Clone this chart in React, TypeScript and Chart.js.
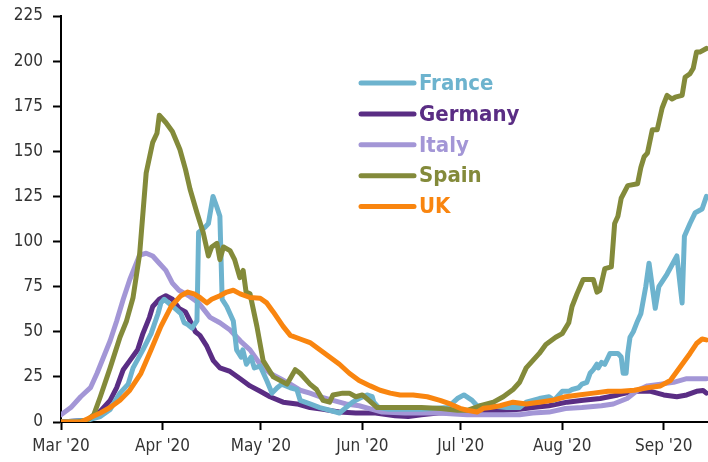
import React, { useEffect, useRef } from "react";
import { Chart, registerables } from "chart.js";

Chart.register(...registerables);

// x = days since 1 Mar 2020
const monthTicks = [0, 31, 61, 92, 122, 153, 184];
const monthLabels = ["Mar '20", "Apr '20", "May '20", "Jun '20", "Jul '20", "Aug '20", "Sep '20"];
const yTicks = [0, 25, 50, 75, 100, 125, 150, 175, 200, 225];

const franceData: [number, number][] = [
  [0, 0], [8, 1], [12, 3], [15, 7], [18, 16], [20.5, 21], [22, 30], [25, 40], [27.5, 49], [29.6, 60], [30.5, 66],
  [31.5, 68], [33.5, 65], [36.6, 60], [37.6, 55], [38.7, 54], [40, 52], [41.5, 56], [42, 105], [44, 108], [45, 110],
  [46.4, 125], [47.6, 119], [48.5, 114], [49.2, 68], [50.6, 64], [52.6, 56], [53.6, 40], [55, 36], [55.5, 40],
  [56.6, 32], [58, 36], [59, 30], [60.8, 31], [62.8, 23], [64.4, 16], [66, 19], [67.4, 21], [70, 19], [72, 18],
  [73, 12], [76, 10], [79, 8], [82, 6.5], [85, 5], [87, 8], [89, 11], [91, 13], [93.4, 15], [95, 14], [95.5, 11],
  [97, 8], [100, 7], [110, 7], [118, 8], [121, 13], [123, 15], [125.5, 12], [127, 9], [131, 9], [136, 8], [140, 8],
  [142, 11], [146, 13], [149, 14], [150.5, 12], [152, 15], [153, 17], [155, 17], [156, 18], [158, 19], [159, 21],
  [160.5, 22], [161.5, 27], [162.5, 29], [163.6, 32], [164, 30], [165, 33], [166, 32], [167.6, 38], [170, 38],
  [171, 36], [171.6, 27], [172.5, 27], [173, 38], [173.7, 47], [174.7, 50], [176, 56], [177, 60], [178.5, 75],
  [179.5, 88], [181.4, 63], [182.5, 75], [185, 82], [188, 92], [189.6, 66], [190.3, 103], [192, 110], [193.6, 116],
  [195.7, 118], [197, 125],
];

const germanyData: [number, number][] = [
  [0, 0], [8, 1], [10, 3], [12, 6], [15, 12], [17, 19], [19, 29], [21, 34], [23.4, 40], [25, 49], [27, 58], [28, 64],
  [30, 68], [32, 70], [34, 68], [36, 63], [38, 61], [39.7, 55], [41, 50], [42.4, 48], [44.5, 42], [46.5, 34],
  [48.5, 30], [51.6, 28], [54.7, 24], [57.7, 20], [60.8, 17], [63.8, 14], [67.8, 11], [72, 10], [76, 8], [80, 7],
  [85, 5.5], [90, 5], [96, 5], [102, 3.5], [106, 3], [110, 4], [115, 5], [121, 5.5], [128, 5.5], [136, 6.5],
  [140, 7], [144, 8], [149, 9], [154.5, 11], [159.4, 12], [164.6, 13], [170, 15], [174.7, 17], [180, 17], [184, 15],
  [188, 14], [191, 15], [194, 17], [196, 17.5], [197, 16],
];

const italyData: [number, number][] = [
  [0, 4], [3, 8], [6, 14], [9, 19], [11, 27], [13, 36], [15, 45], [17, 56], [19, 68], [21, 79], [23, 88],
  [24, 92.5], [26, 93.5], [28, 92], [30, 88], [32, 84], [34, 77], [36, 73], [39, 70], [42, 66], [45.5, 58],
  [48.5, 55], [51.6, 51], [54.7, 45], [57.7, 40], [60.8, 32], [63.8, 27], [67, 24], [70, 21], [73, 17.6], [76, 16],
  [79, 14], [83, 12], [87, 10], [91, 9], [95, 7], [98, 5.5], [105, 5], [115, 5], [124, 4], [131, 4], [140, 4],
  [144, 5], [149, 5.5], [154, 7.5], [159, 8], [165, 9], [168.6, 10], [172.8, 13], [176, 17.6], [179, 20], [183, 21],
  [187, 22], [191, 24], [197, 24],
];

const spainData: [number, number][] = [
  [0, 0], [5, 0], [8, 1], [10, 4], [12, 14], [15, 30], [18, 47], [20, 56], [22, 69], [24, 93], [26, 138], [28, 155],
  [29.3, 160], [30, 170], [32, 166], [34, 161], [36.3, 151], [38, 140], [39.4, 129], [41.5, 116], [43.4, 105],
  [45, 92], [46, 97], [47.6, 99], [48.5, 90], [49.6, 97], [51.6, 95], [53, 90], [54.6, 80], [55.6, 84], [56.5, 72],
  [57.7, 71], [59.8, 53], [61.7, 34], [64.8, 25], [69, 21], [71.5, 29], [73, 27], [76, 21], [78, 18], [80, 12],
  [82, 11], [83, 15], [86, 16], [88, 16], [90, 14], [92, 15], [94, 12], [96.5, 8], [100, 8], [105, 8], [110, 8],
  [116, 7.5], [121, 6.5], [124, 6.5], [128, 9], [132, 11], [135, 14], [138, 18], [140, 22], [142, 30], [144, 34],
  [146, 38], [148, 43], [151, 47], [153, 49], [155, 55], [156, 64], [157.5, 71], [159.4, 79], [162.5, 79],
  [163.6, 72], [164.5, 73], [166, 85], [168, 86], [169, 110], [170, 114], [171, 124], [173, 131], [176, 132],
  [177, 141], [178, 147], [179, 149], [180.5, 162], [182, 162], [183.5, 174], [185, 181], [186.5, 179],
  [187.5, 180], [189.6, 181], [190.5, 191], [192, 193], [193, 196], [194, 205], [195, 205], [197, 207],
];

const ukData: [number, number][] = [
  [0, 0], [6, 0], [9, 2.5], [12, 5], [15, 8], [18, 12], [21, 17.6], [24.4, 27], [27.5, 40], [30.5, 53], [33.6, 64],
  [36.6, 70], [38.7, 72], [40.6, 71], [42.4, 69], [44.5, 66], [46, 68], [48.5, 70], [50.6, 72], [52.6, 73],
  [54.7, 71], [57.7, 69], [60.8, 68.6], [62.8, 66], [64.8, 61], [67.8, 53], [70, 48], [73, 46], [76, 44], [79, 40],
  [82, 36], [85, 32], [88, 27], [91, 23], [94.4, 20], [97.4, 17.6], [100.5, 16], [103.5, 15], [107.5, 15],
  [111.8, 14], [115.7, 12], [118.8, 10], [121.8, 7.6], [124, 6.5], [127, 5.5], [129, 7.6], [131, 8], [134, 9],
  [138, 11], [142, 10], [146, 11], [150, 12], [154, 14], [158, 15], [162.5, 16], [167, 17], [171, 17], [175, 17.6],
  [179, 19], [183, 20], [186, 23], [188, 28], [190, 33], [192, 38], [194, 43.5], [195.7, 46], [197, 45.5],
];

const seriesNames = ["France", "Germany", "Italy", "Spain", "UK"];
const seriesColors = ["#6DB3CE", "#5A2D84", "#A396D6", "#838A3A", "#F9850F"];
const seriesData = [franceData, germanyData, italyData, spainData, ukData];
const seriesOrder = [2, 4, 3, 1, 0];

const FONT = "'DejaVu Sans Condensed', 'DejaVu Sans', sans-serif";

const legendPlugin = {
  id: "inlineLegend",
  afterDatasetsDraw(chart: any) {
    const ctx = chart.ctx;
    ctx.save();
    seriesNames.forEach((name, i) => {
      const y = 83 + i * 30.9;
      ctx.strokeStyle = seriesColors[i];
      ctx.lineWidth = 5;
      ctx.lineCap = "round";
      ctx.beginPath();
      ctx.moveTo(361, y);
      ctx.lineTo(414, y);
      ctx.stroke();
      ctx.fillStyle = seriesColors[i];
      ctx.font = `bold 22px ${FONT}`;
      ctx.textAlign = "left";
      ctx.textBaseline = "middle";
      ctx.fillText(name, 419, y + 1);
    });
    ctx.restore();
  },
};

export default function App() {
  const ref = useRef<HTMLCanvasElement>(null);
  useEffect(() => {
    document.body.style.margin = "0";
    const canvas = ref.current!;
    const chart = new Chart(canvas, {
      type: "line",
      data: {
        datasets: seriesNames.map((name, i) => ({
          label: name,
          data: seriesData[i].map(([x, y]) => ({ x, y })),
          borderColor: seriesColors[i],
          backgroundColor: seriesColors[i],
          borderWidth: 5,
          pointRadius: 0,
          tension: 0,
          borderJoinStyle: "round" as const,
          borderCapStyle: "round" as const,
          order: seriesOrder[i],
        })),
      },
      options: {
        responsive: false,
        animation: false,
        layout: { padding: { top: 16, right: 0, left: 0, bottom: 0 } },
        plugins: { legend: { display: false }, tooltip: { enabled: false } },
        scales: {
          x: {
            type: "linear",
            min: 0,
            max: 197.5,
            afterBuildTicks: (scale: any) => {
              scale.ticks = monthTicks.map((v) => ({ value: v }));
            },
            afterFit: (scale: any) => {
              scale.height = 40;
              scale.paddingLeft = 0;
              scale.paddingRight = 0;
            },
            ticks: {
              autoSkip: false,
              maxRotation: 0,
              padding: 6,
              color: "#333",
              font: { family: FONT, size: 17 },
              callback: (v: any) => {
                const idx = monthTicks.indexOf(Number(v));
                return idx >= 0 ? monthLabels[idx] : "";
              },
            },
            grid: { drawOnChartArea: false, drawTicks: true, tickLength: 8, tickColor: "#000", tickWidth: 2 },
            border: { display: true, color: "#000", width: 2 },
          },
          y: {
            min: 0,
            max: 225,
            afterBuildTicks: (scale: any) => {
              scale.ticks = yTicks.map((v) => ({ value: v }));
            },
            afterFit: (scale: any) => {
              scale.width = 61;
              scale.paddingTop = 0;
              scale.paddingBottom = 0;
            },
            ticks: {
              padding: 10,
              color: "#333",
              font: { family: FONT, size: 17 },
            },
            grid: { drawOnChartArea: false, drawTicks: true, tickLength: 8, tickColor: "#000", tickWidth: 2 },
            border: { display: true, color: "#000", width: 2 },
          },
        },
      },
      plugins: [legendPlugin],
    });
    return () => chart.destroy();
  }, []);
  return <canvas ref={ref} width={708} height={462} style={{ display: "block", width: 708, height: 462 }} />;
}
